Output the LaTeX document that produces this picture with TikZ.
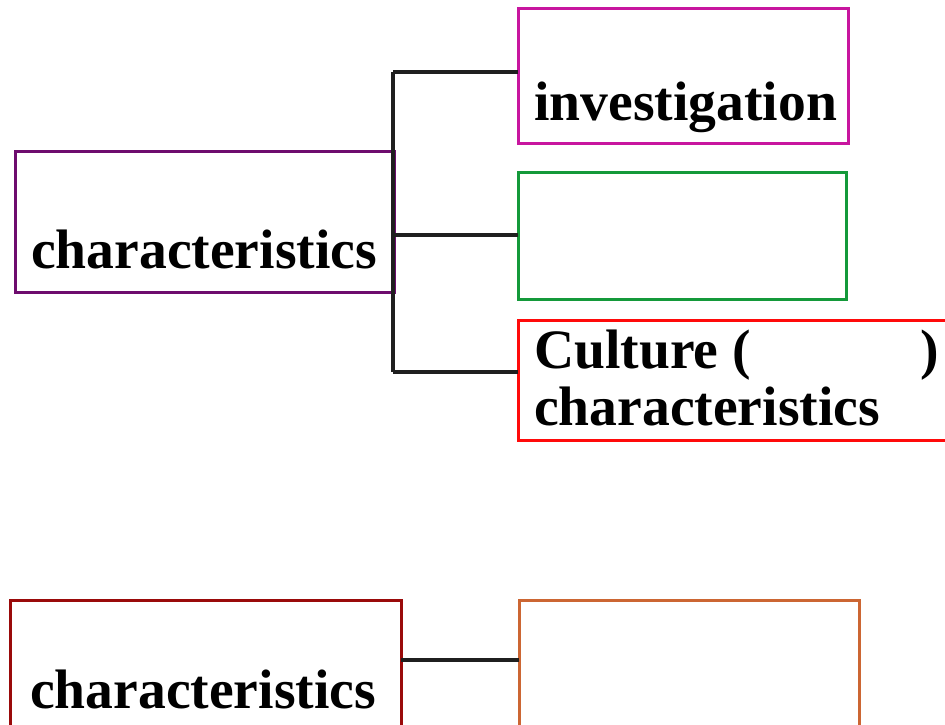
\documentclass[tikz,border=0pt]{standalone}
\usepackage{fontspec}
\setmainfont{Liberation Serif}
\definecolor{purp}{HTML}{6E0C6E}
\definecolor{magn}{HTML}{C8169F}
\definecolor{grn}{HTML}{14993A}
\definecolor{rd}{HTML}{FF0A0A}
\definecolor{drd}{HTML}{9A0A0A}
\definecolor{orng}{HTML}{CC6633}
\begin{document}
\begin{tikzpicture}[x=1pt,y=-1pt,
  box/.style={draw,line width=3pt,rectangle,inner sep=0pt,outer sep=0pt,anchor=north west},
  lbl/.style={anchor=base west,inner sep=0pt,font=\fontsize{55.6}{57}\selectfont\bfseries},
  conn/.style={line width=3.5pt,draw={black!88}}]
\useasboundingbox (0,0) rectangle (945,724);
% boxes
\node[box,draw=purp,minimum width=379pt,minimum height=141pt] (A) at (15,151) {};
\node[box,draw=magn,minimum width=330pt,minimum height=135pt] (B) at (518,8) {};
\node[box,draw=grn,minimum width=328pt,minimum height=127pt] (C) at (518,172) {};
\node[box,draw=rd,minimum width=450pt,minimum height=120pt] (D) at (518,320) {};
\node[box,draw=drd,minimum width=391pt,minimum height=140pt] (E) at (10,600) {};
\node[box,draw=orng,minimum width=340pt,minimum height=140pt] (F) at (519,600) {};
% texts
\node[lbl] (tA) at (31,268) {characteristics};
\node[lbl] (tB) at (534,120) {investigation};
\node[lbl] (tD1) at (534,368) {Culture (};
\node[lbl] (tD2) at (920,368) {)};
\node[lbl] (tD3) at (534,425) {characteristics};
\node[lbl] (tE) at (30,708) {characteristics};
% connectors
\coordinate (jB) at (393,72);
\coordinate (jC) at (393,235);
\coordinate (jD) at (393,372);
\coordinate (jE) at (401,660);
\draw[conn] (jB) -- (jD);
\draw[conn] (jB) -- (jB -| B.west);
\draw[conn] (jC -| A.east) -- (jC -| C.west);
\draw[conn] (jD) -- (jD -| D.west);
\draw[conn] (jE -| E.east) -- (jE -| F.west);
\end{tikzpicture}
\end{document}
